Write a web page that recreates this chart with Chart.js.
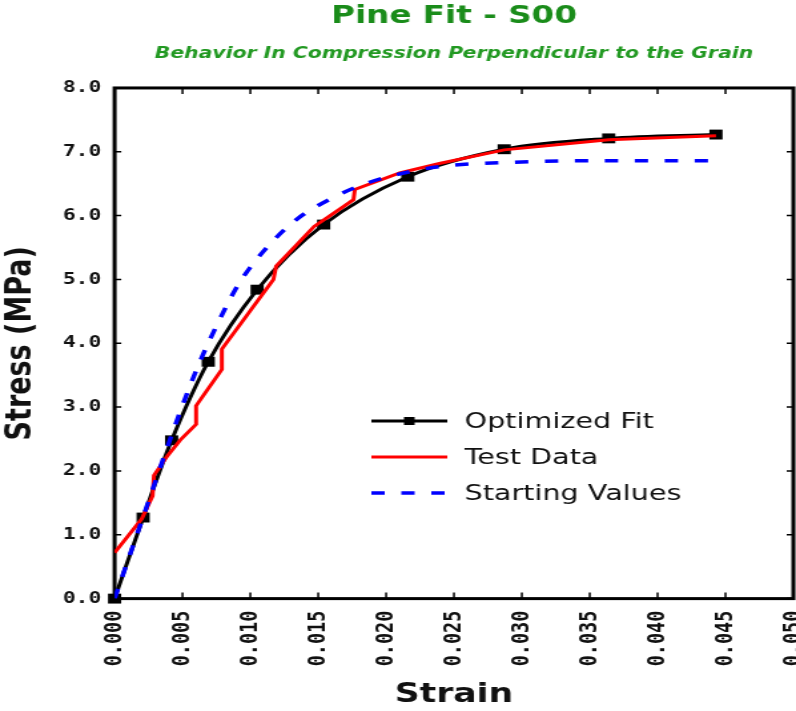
<!DOCTYPE html>
<html>
<head>
<meta charset="utf-8">
<script src="https://cdn.jsdelivr.net/npm/chart.js@4.4.1/dist/chart.umd.min.js"></script>
<style>
  html, body { margin: 0; padding: 0; background: #fff; overflow: hidden; }
</style>
</head>
<body>
<!-- drawn narrow and stretched sideways, like the original picture -->
<canvas id="chart" width="598" height="711" style="width:796px;height:711px;display:block"></canvas>
<script>
// Optimized Fit (with square markers)
const fitStrain = [0, 0.0021, 0.0042, 0.0069, 0.0105, 0.0154, 0.0216, 0.0287, 0.0364, 0.0443];
const fitStress = [0, 1.27, 2.48, 3.71, 4.84, 5.86, 6.61, 7.04, 7.21, 7.27];

// Test Data
const testStrain = [0, 0.0020, 0.0028, 0.0029, 0.0039, 0.0049, 0.0060, 0.0060, 0.0079, 0.0079, 0.0117, 0.0119, 0.0147, 0.0176, 0.0177, 0.0210, 0.0240, 0.0287, 0.0364, 0.0443];
const testStress = [0.72, 1.25, 1.61, 1.93, 2.24, 2.50, 2.73, 3.02, 3.59, 3.91, 5.00, 5.21, 5.83, 6.25, 6.41, 6.67, 6.82, 7.03, 7.19, 7.25];

// Starting Values
const startStrain = [0, 0.0020, 0.0049, 0.0061, 0.0075, 0.0092, 0.0113, 0.0134, 0.0158, 0.0186, 0.0218, 0.0240, 0.0300, 0.0360, 0.0445];
const startStress = [0, 1.22, 2.97, 3.62, 4.27, 4.95, 5.52, 5.94, 6.25, 6.51, 6.69, 6.77, 6.84, 6.86, 6.86];

const xMin = 0, xMax = 0.05, xStep = 0.005;
const yMin = 0, yMax = 8, yStep = 1;

const green = '#1a8c1a';

function toPoints(xs, ys) {
    return xs.map((x, i) => ({ x: x, y: ys[i] }));
}

// box round the plot with inward tick marks on all four sides
const framePlugin = {
    id: 'frame',
    beforeDatasetsDraw(chart) {
        const ctx = chart.ctx;
        const a = chart.chartArea;
        const xs = chart.scales.x, ys = chart.scales.y;
        ctx.save();
        ctx.strokeStyle = '#000';
        ctx.lineWidth = 1.5;
        ctx.beginPath();
        xs.ticks.forEach(t => {
            const px = xs.getPixelForValue(t.value);
            ctx.moveTo(px, a.bottom); ctx.lineTo(px, a.bottom - 6);
            ctx.moveTo(px, a.top); ctx.lineTo(px, a.top + 6);
        });
        ys.ticks.forEach(t => {
            const py = ys.getPixelForValue(t.value);
            ctx.moveTo(a.left, py); ctx.lineTo(a.left + 5, py);
            ctx.moveTo(a.right, py); ctx.lineTo(a.right - 5, py);
        });
        ctx.stroke();
        ctx.lineWidth = 3;
        ctx.strokeRect(a.left, a.top, a.right - a.left, a.bottom - a.top);
        ctx.restore();
    }
};

// legend inside the plot
const legendPlugin = {
    id: 'innerLegend',
    afterDatasetsDraw(chart) {
        const ctx = chart.ctx;
        const x0 = 279, x1 = 336, tx = 349;
        const rows = [421, 457, 493];
        ctx.save();
        chart.data.datasets.forEach((ds, i) => {
            const y = rows[i];
            ctx.strokeStyle = ds.borderColor;
            ctx.lineWidth = ds.borderWidth;
            ctx.setLineDash(ds.borderDash || []);
            ctx.beginPath();
            ctx.moveTo(x0, y); ctx.lineTo(x1, y);
            ctx.stroke();
            ctx.setLineDash([]);
            if (ds.pointRadius > 0) {
                ctx.fillStyle = ds.pointBackgroundColor;
                ctx.fillRect((x0 + x1) / 2 - 4, y - 4, 8, 8);
            }
            ctx.fillStyle = '#111';
            ctx.font = '21.5px "DejaVu Sans"';
            ctx.textBaseline = 'middle';
            ctx.fillText(ds.label, tx, y + 1);
        });
        ctx.restore();
    }
};

new Chart(document.getElementById('chart'), {
    type: 'scatter',
    data: {
        datasets: [{
            label: 'Optimized Fit',
            data: toPoints(fitStrain, fitStress),
            showLine: true,
            borderColor: '#000',
            borderWidth: 3,
            pointStyle: 'rect',
            pointRadius: 7,
            pointBackgroundColor: '#000',
            pointBorderWidth: 0,
            cubicInterpolationMode: 'monotone',
            clip: false,
            order: 3
        }, {
            label: 'Test Data',
            data: toPoints(testStrain, testStress),
            showLine: true,
            borderColor: '#ff0000',
            borderWidth: 3,
            pointRadius: 0,
            tension: 0,
            order: 2
        }, {
            label: 'Starting Values',
            data: toPoints(startStrain, startStress),
            showLine: true,
            borderColor: '#0000ff',
            borderWidth: 3.5,
            borderDash: [10, 12.5],
            pointRadius: 0,
            cubicInterpolationMode: 'monotone',
            order: 1
        }]
    },
    options: {
        responsive: false,
        animation: false,
        devicePixelRatio: 1,
        layout: { autoPadding: false, padding: { left: 0, right: 2, top: 0, bottom: 0 } },
        plugins: {
            legend: { display: false },
            tooltip: { enabled: false },
            title: {
                display: true,
                text: 'Pine Fit - S00',
                fullSize: false,
                color: green,
                font: { family: 'DejaVu Sans', size: 24.5, weight: 'bold' },
                padding: { top: 2, bottom: 8 }
            },
            subtitle: {
                display: true,
                text: 'Behavior In Compression Perpendicular to the Grain',
                fullSize: false,
                color: '#229922',
                font: { family: 'DejaVu Sans', size: 15.3, weight: 'bold', style: 'italic' },
                padding: { top: 5, bottom: 25.2 }
            }
        },
        scales: {
            x: {
                type: 'linear',
                min: xMin,
                max: xMax,
                afterFit: s => { s.paddingLeft = 0; s.paddingRight = 0; },
                grid: { display: false, drawTicks: false },
                border: { display: false },
                ticks: {
                    stepSize: xStep,
                    autoSkip: false,
                    minRotation: 90,
                    maxRotation: 90,
                    padding: 12,
                    color: '#111',
                    font: { family: 'DejaVu Sans Mono', size: 18.5, weight: 'bold' },
                    callback: v => v.toFixed(3)
                },
                title: {
                    display: true,
                    text: 'Strain',
                    color: '#111',
                    font: { family: 'DejaVu Sans', size: 26, weight: 'bold' },
                    padding: { top: 1.5, bottom: 0 }
                }
            },
            y: {
                min: yMin,
                max: yMax,
                afterFit: s => { s.paddingTop = 0; s.paddingBottom = 0; },
                grid: { display: false, drawTicks: false },
                border: { display: false },
                ticks: {
                    stepSize: yStep,
                    padding: 10,
                    color: '#111',
                    font: { family: 'DejaVu Sans Mono', size: 16, weight: 'bold' },
                    callback: v => v.toFixed(1)
                },
                title: {
                    display: true,
                    text: 'Stress (MPa)',
                    color: '#111',
                    font: { family: 'DejaVu Sans', size: 27, weight: 'bold' },
                    padding: { top: 0, bottom: 4.8 }
                }
            }
        }
    },
    plugins: [framePlugin, legendPlugin]
});
</script>
</body>
</html>
